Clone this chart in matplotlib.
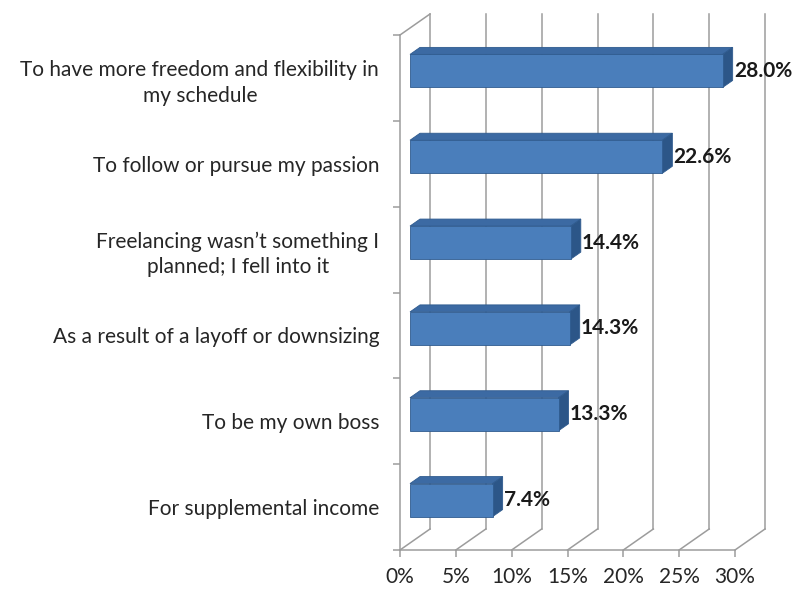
import matplotlib
matplotlib.use('Agg')
import matplotlib.pyplot as plt
from matplotlib.patches import Polygon

plt.rcParams['font.family'] = ['Lato', 'DejaVu Sans']

categories = ['For supplemental income',
              'To be my own boss',
              'As a result of a layoff or downsizing',
              'Freelancing wasn\u2019t something I\nplanned; I fell into it',
              'To follow or pursue my passion',
              'To have more freedom and flexibility in\nmy schedule']
values = [7.4, 13.3, 14.3, 14.4, 22.6, 28.0]
xticks = [0, 5, 10, 15, 20, 25, 30]
xtick_labels = ['0%', '5%', '10%', '15%', '20%', '25%', '30%']

fig = plt.figure(figsize=(7.95, 5.89), dpi=100)
ax = fig.add_axes([400 / 795, 1 - 550 / 589, 335 / 795, 515 / 589])
ax.set_xlim(0, 30)
ax.set_ylim(-0.5, len(categories) - 0.5)

# depth of the fake 3d box, in data units (about 30 px right, 20 px up)
DX = 30 * 30 / 335
DY = 21 / (515 / len(categories))
def proj(x, y, d):
    return (x + d * DX, y + d * DY)

grid = '#9c9c9c'
kw = dict(color=grid, lw=1.1, clip_on=False, zorder=1)
ytop = len(categories) - 0.5
# back wall gridlines + floor diagonals
for t in xticks:
    x0, y0 = proj(t, -0.5, 1)
    x1, y1 = proj(t, ytop, 1)
    ax.plot([x0, x1], [y0, y1], **kw)
    fx, fy = proj(t, -0.5, 0)
    ax.plot([fx, x0], [fy, y0], **kw)
# left wall top edge
a = proj(0, ytop, 0)
b = proj(0, ytop, 1)
ax.plot([a[0], b[0]], [a[1], b[1]], **kw)

# bars
h = 0.385
front = '#4a7ebb'
top = '#3c6aa3'
side = '#2c5688'
edge = '#2f5b8f'
for i, v in enumerate(values):
    lo, hi = i - h / 2, i + h / 2
    f = [proj(0, lo, 1/3), proj(v, lo, 1/3), proj(v, hi, 1/3), proj(0, hi, 1/3)]
    tp = [proj(0, hi, 1/3), proj(v, hi, 1/3), proj(v, hi, 2/3), proj(0, hi, 2/3)]
    sd = [proj(v, lo, 1/3), proj(v, lo, 2/3), proj(v, hi, 2/3), proj(v, hi, 1/3)]
    for pts, c in ((tp, top), (sd, side), (f, front)):
        ax.add_patch(Polygon(pts, closed=True, fc=c, ec=edge, lw=0.6,
                             clip_on=False, zorder=3))
    lx, ly = proj(v, i, 2/3)
    ax.text(lx + 0.1, i + DY / 3, '{:.1f}%'.format(v), ha='left', va='center',
            fontsize=15, fontweight='bold', color='#1a1a1a', zorder=4)

for s in ['top', 'right']:
    ax.spines[s].set_visible(False)
for s in ['left', 'bottom']:
    ax.spines[s].set_color(grid)
    ax.spines[s].set_linewidth(1.1)

ax.set_yticks(range(len(categories)))
ax.set_yticklabels(categories, fontsize=15, color='#262626', multialignment='center',
                   linespacing=1.35)
ax.set_yticks([i - 0.5 for i in range(len(categories) + 1)], minor=True)
ax.tick_params(axis='y', which='major', length=0, pad=15)
ax.tick_params(axis='y', which='minor', length=5, color=grid, width=1.1)
ax.set_xticks(xticks)
ax.set_xticklabels(xtick_labels, fontsize=15, color='#262626')
ax.tick_params(axis='x', length=5, color=grid, width=1.1, pad=7)

fig.savefig('out.png', dpi=100, facecolor='white')
